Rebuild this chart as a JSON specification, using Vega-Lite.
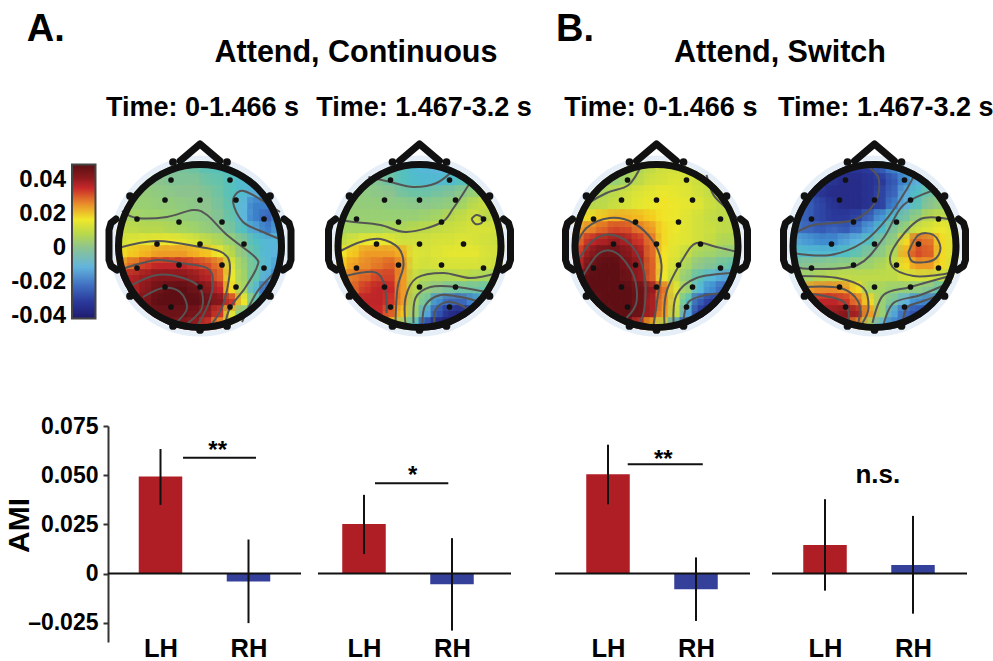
{"$schema":"https://vega.github.io/schema/vega-lite/v6.json","padding":0,"autosize":"pad","background":"white","spacing":0,
"config":{"view":{"stroke":null},"axis":{"grid":false},"font":"Liberation Sans"},
"datasets":{
"e":[{"x":-29,"y":66},{"x":30,"y":66},{"x":-35,"y":46},{"x":0,"y":46},{"x":36,"y":46},{"x":-63,"y":27},{"x":-21,"y":24},{"x":22,"y":24},{"x":64,"y":27},{"x":-43,"y":2},{"x":0,"y":2},{"x":44,"y":2},{"x":-63,"y":-22},{"x":-21,"y":-19},{"x":22,"y":-19},{"x":64,"y":-22},{"x":-35,"y":-41},{"x":0,"y":-41},{"x":36,"y":-41},{"x":-29,"y":-61},{"x":30,"y":-61}],
"k":[{"x":-27,"y":84},{"x":27,"y":84},{"x":-70,"y":50},{"x":70,"y":50},{"x":-70,"y":-50},{"x":70,"y":-50},{"x":-27,"y":-80},{"x":27,"y":-80},{"x":0,"y":-84}],
"o":[{"p":"n","x":-20,"y":85},{"p":"n","x":0,"y":102},{"p":"n","x":20,"y":85},
{"p":"l","x":-84,"y":27},{"p":"l","x":-89,"y":23},{"p":"l","x":-91,"y":16},{"p":"l","x":-91,"y":-14},{"p":"l","x":-89,"y":-20},{"p":"l","x":-83,"y":-24},
{"p":"r","x":84,"y":27},{"p":"r","x":89,"y":23},{"p":"r","x":91,"y":16},{"p":"r","x":91,"y":-14},{"p":"r","x":89,"y":-20},{"p":"r","x":83,"y":-24}],
"c1":[{"c":1,"x":-78,"y":35},{"c":1,"x":-63,"y":28},{"c":1,"x":-33,"y":29},{"c":1,"x":-7,"y":36},{"c":1,"x":7,"y":31},{"c":1,"x":27,"y":11},{"c":1,"x":55,"y":-11},{"c":1,"x":57,"y":-21},{"c":1,"x":45,"y":-42},{"c":1,"x":30,"y":-62},{"c":1,"x":25,"y":-80},
{"c":2,"x":80,"y":34},{"c":2,"x":53,"y":51},{"c":2,"x":40,"y":55},{"c":2,"x":33,"y":44},{"c":2,"x":43,"y":24},{"c":2,"x":63,"y":14},{"c":2,"x":82,"y":6},
{"c":3,"x":-82,"y":-2},{"c":3,"x":-43,"y":5},{"c":3,"x":0,"y":-1},{"c":3,"x":23,"y":-7},{"c":3,"x":30,"y":-22},{"c":3,"x":23,"y":-59},{"c":3,"x":10,"y":-80},
{"c":4,"x":-75,"y":-22},{"c":4,"x":-43,"y":-14},{"c":4,"x":-20,"y":-17},{"c":4,"x":7,"y":-22},{"c":4,"x":13,"y":-36},{"c":4,"x":8,"y":-59},{"c":4,"x":-3,"y":-80},
{"c":5,"x":-68,"y":-39},{"c":5,"x":-43,"y":-29},{"c":5,"x":-17,"y":-32},{"c":5,"x":0,"y":-42},{"c":5,"x":2,"y":-62},{"c":5,"x":-12,"y":-77},
{"c":6,"x":-57,"y":-51},{"c":6,"x":-37,"y":-42},{"c":6,"x":-20,"y":-46},{"c":6,"x":-13,"y":-62},{"c":6,"x":-23,"y":-76},
{"c":7,"x":81,"y":-9},{"c":7,"x":78,"y":-22},{"c":7,"x":57,"y":-46},{"c":7,"x":42,"y":-76}],
"c2":[{"c":1,"x":-51,"y":69},{"c":1,"x":-29,"y":64},{"c":1,"x":-6,"y":59},{"c":1,"x":17,"y":63},{"c":1,"x":34,"y":76},
{"c":2,"x":-81,"y":26},{"c":2,"x":-66,"y":24},{"c":2,"x":-39,"y":21},{"c":2,"x":-13,"y":14},{"c":2,"x":21,"y":23},{"c":2,"x":34,"y":38},{"c":2,"x":51,"y":64},
{"c":3,"x":-79,"y":-5},{"c":3,"x":-59,"y":4},{"c":3,"x":-39,"y":7},{"c":3,"x":-21,"y":-2},{"c":3,"x":-16,"y":-19},{"c":3,"x":-22,"y":-42},{"c":3,"x":-24,"y":-76},
{"c":4,"x":-74,"y":-30},{"c":4,"x":-46,"y":-26},{"c":4,"x":-36,"y":-36},{"c":4,"x":-33,"y":-56},{"c":4,"x":-33,"y":-67},
{"c":5,"x":-14,"y":-79},{"c":5,"x":-14,"y":-52},{"c":5,"x":-3,"y":-32},{"c":5,"x":24,"y":-27},{"c":5,"x":51,"y":-32},{"c":5,"x":78,"y":-27},
{"c":6,"x":-6,"y":-77},{"c":6,"x":-4,"y":-52},{"c":6,"x":11,"y":-41},{"c":6,"x":37,"y":-41},{"c":6,"x":71,"y":-47},
{"c":7,"x":3,"y":-77},{"c":7,"x":6,"y":-59},{"c":7,"x":21,"y":-49},{"c":7,"x":41,"y":-51},{"c":7,"x":61,"y":-56},
{"c":8,"x":15,"y":-79},{"c":8,"x":16,"y":-64},{"c":8,"x":27,"y":-56},{"c":8,"x":41,"y":-59},{"c":8,"x":51,"y":-66},
{"c":9,"x":52,"y":27},{"c":9,"x":57,"y":31},{"c":9,"x":63,"y":28},{"c":9,"x":62,"y":23},{"c":9,"x":56,"y":22},{"c":9,"x":52,"y":27}],
"c3":[{"c":1,"x":-15,"y":81},{"c":1,"x":-28,"y":61},{"c":1,"x":-50,"y":53},{"c":1,"x":-73,"y":39},{"c":1,"x":-80,"y":24},
{"c":2,"x":50,"y":71},{"c":2,"x":57,"y":51},{"c":2,"x":70,"y":38},{"c":2,"x":81,"y":28},
{"c":3,"x":-81,"y":-2},{"c":3,"x":-70,"y":18},{"c":3,"x":-47,"y":28},{"c":3,"x":-23,"y":23},{"c":3,"x":-3,"y":4},{"c":3,"x":5,"y":-19},{"c":3,"x":1,"y":-52},{"c":3,"x":-3,"y":-79},
{"c":4,"x":-78,"y":-14},{"c":4,"x":-63,"y":6},{"c":4,"x":-43,"y":11},{"c":4,"x":-23,"y":-2},{"c":4,"x":-12,"y":-29},{"c":4,"x":-12,"y":-62},{"c":4,"x":-18,"y":-79},
{"c":5,"x":-73,"y":-29},{"c":5,"x":-57,"y":-7},{"c":5,"x":-40,"y":-7},{"c":5,"x":-23,"y":-29},{"c":5,"x":-20,"y":-56},{"c":5,"x":-30,"y":-72},
{"c":6,"x":8,"y":-79},{"c":6,"x":10,"y":-46},{"c":6,"x":27,"y":-12},{"c":6,"x":40,"y":3},{"c":6,"x":60,"y":-1},{"c":6,"x":81,"y":-6},
{"c":7,"x":17,"y":-77},{"c":7,"x":20,"y":-49},{"c":7,"x":40,"y":-32},{"c":7,"x":78,"y":-27},
{"c":8,"x":27,"y":-76},{"c":8,"x":32,"y":-56},{"c":8,"x":50,"y":-49},{"c":8,"x":71,"y":-47}],
"c4":[{"c":1,"x":-9,"y":81},{"c":1,"x":4,"y":68},{"c":1,"x":1,"y":44},{"c":1,"x":-21,"y":26},{"c":1,"x":-61,"y":21},{"c":1,"x":-82,"y":11},
{"c":2,"x":-82,"y":-7},{"c":2,"x":-44,"y":-9},{"c":2,"x":-11,"y":4},{"c":2,"x":13,"y":28},{"c":2,"x":33,"y":58},{"c":2,"x":41,"y":74},
{"c":3,"x":-79,"y":-21},{"c":3,"x":-61,"y":-23},{"c":3,"x":-17,"y":-19},{"c":3,"x":9,"y":8},{"c":3,"x":29,"y":41},{"c":3,"x":63,"y":57},
{"c":4,"x":78,"y":26},{"c":4,"x":46,"y":27},{"c":4,"x":19,"y":-2},{"c":4,"x":18,"y":-21},{"c":4,"x":39,"y":-30},{"c":4,"x":63,"y":-29},{"c":4,"x":79,"y":-26},
{"c":5,"x":34,"y":-6},{"c":5,"x":44,"y":11},{"c":5,"x":59,"y":11},{"c":5,"x":66,"y":-2},{"c":5,"x":59,"y":-14},{"c":5,"x":39,"y":-16},{"c":5,"x":34,"y":-6},
{"c":6,"x":-77,"y":-30},{"c":6,"x":-37,"y":-32},{"c":6,"x":-11,"y":-42},{"c":6,"x":-6,"y":-62},{"c":6,"x":-12,"y":-77},
{"c":7,"x":-72,"y":-41},{"c":7,"x":-34,"y":-42},{"c":7,"x":-16,"y":-56},{"c":7,"x":-16,"y":-76},
{"c":8,"x":-69,"y":-47},{"c":8,"x":-34,"y":-54},{"c":8,"x":-26,"y":-66},{"c":8,"x":-27,"y":-76},
{"c":9,"x":-2,"y":-77},{"c":9,"x":9,"y":-49},{"c":9,"x":36,"y":-41},{"c":9,"x":79,"y":-29},
{"c":10,"x":9,"y":-79},{"c":10,"x":19,"y":-57},{"c":10,"x":46,"y":-49},{"c":10,"x":77,"y":-36},
{"c":11,"x":28,"y":-76},{"c":11,"x":33,"y":-61},{"c":11,"x":46,"y":-56},{"c":11,"x":71,"y":-47}],
"h1":[{"x":-30,"y":78,"v":-2},{"x":-18,"y":78,"v":-2},{"x":-6,"y":78,"v":-3},{"x":6,"y":78,"v":-5},{"x":18,"y":78,"v":-6},{"x":30,"y":78,"v":-8},
{"x":-54,"y":66,"v":1},{"x":-42,"y":66,"v":0},{"x":-30,"y":66,"v":-1},{"x":-18,"y":66,"v":-1},{"x":-6,"y":66,"v":-1},{"x":6,"y":66,"v":-3},{"x":18,"y":66,"v":-4},{"x":30,"y":66,"v":-6},{"x":42,"y":66,"v":-9},{"x":54,"y":66,"v":-11},
{"x":-66,"y":54,"v":3},{"x":-54,"y":54,"v":3},{"x":-42,"y":54,"v":2},{"x":-30,"y":54,"v":1},{"x":-18,"y":54,"v":0},{"x":-6,"y":54,"v":0},{"x":6,"y":54,"v":-1},{"x":18,"y":54,"v":-3},{"x":30,"y":54,"v":-6},{"x":42,"y":54,"v":-9},{"x":54,"y":54,"v":-13},{"x":66,"y":54,"v":-16},
{"x":-66,"y":42,"v":4},{"x":-54,"y":42,"v":4},{"x":-42,"y":42,"v":3},{"x":-30,"y":42,"v":3},{"x":-18,"y":42,"v":2},{"x":-6,"y":42,"v":1},{"x":6,"y":42,"v":0},{"x":18,"y":42,"v":-2},{"x":30,"y":42,"v":-5},{"x":42,"y":42,"v":-11},{"x":54,"y":42,"v":-20},{"x":66,"y":42,"v":-20},
{"x":-78,"y":30,"v":6},{"x":-66,"y":30,"v":6},{"x":-54,"y":30,"v":5},{"x":-42,"y":30,"v":5},{"x":-30,"y":30,"v":4},{"x":-18,"y":30,"v":3},{"x":-6,"y":30,"v":2},{"x":6,"y":30,"v":1},{"x":18,"y":30,"v":-1},{"x":30,"y":30,"v":-4},{"x":42,"y":30,"v":-11},{"x":54,"y":30,"v":-20},{"x":66,"y":30,"v":-24},{"x":78,"y":30,"v":-18},
{"x":-78,"y":18,"v":10},{"x":-66,"y":18,"v":9},{"x":-54,"y":18,"v":8},{"x":-42,"y":18,"v":8},{"x":-30,"y":18,"v":7},{"x":-18,"y":18,"v":6},{"x":-6,"y":18,"v":5},{"x":6,"y":18,"v":3},{"x":18,"y":18,"v":1},{"x":30,"y":18,"v":-2},{"x":42,"y":18,"v":-7},{"x":54,"y":18,"v":-14},{"x":66,"y":18,"v":-20},{"x":78,"y":18,"v":-15},
{"x":-78,"y":6,"v":13},{"x":-66,"y":6,"v":14},{"x":-54,"y":6,"v":15},{"x":-42,"y":6,"v":16},{"x":-30,"y":6,"v":16},{"x":-18,"y":6,"v":15},{"x":-6,"y":6,"v":13},{"x":6,"y":6,"v":10},{"x":18,"y":6,"v":7},{"x":30,"y":6,"v":4},{"x":42,"y":6,"v":-1},{"x":54,"y":6,"v":-7},{"x":66,"y":6,"v":-10},{"x":78,"y":6,"v":-10},
{"x":-78,"y":-6,"v":18},{"x":-66,"y":-6,"v":20},{"x":-54,"y":-6,"v":22},{"x":-42,"y":-6,"v":24},{"x":-30,"y":-6,"v":24},{"x":-18,"y":-6,"v":24},{"x":-6,"y":-6,"v":22},{"x":6,"y":-6,"v":20},{"x":18,"y":-6,"v":16},{"x":30,"y":-6,"v":8},{"x":42,"y":-6,"v":1},{"x":54,"y":-6,"v":-5},{"x":66,"y":-6,"v":-10},{"x":78,"y":-6,"v":-12},
{"x":-78,"y":-18,"v":26},{"x":-66,"y":-18,"v":30},{"x":-54,"y":-18,"v":34},{"x":-42,"y":-18,"v":36},{"x":-30,"y":-18,"v":36},{"x":-18,"y":-18,"v":36},{"x":-6,"y":-18,"v":34},{"x":6,"y":-18,"v":32},{"x":18,"y":-18,"v":28},{"x":30,"y":-18,"v":14},{"x":42,"y":-18,"v":4},{"x":54,"y":-18,"v":-3},{"x":66,"y":-18,"v":-10},{"x":78,"y":-18,"v":-15},
{"x":-78,"y":-30,"v":35},{"x":-66,"y":-30,"v":38},{"x":-54,"y":-30,"v":40},{"x":-42,"y":-30,"v":42},{"x":-30,"y":-30,"v":42},{"x":-18,"y":-30,"v":42},{"x":-6,"y":-30,"v":40},{"x":6,"y":-30,"v":37},{"x":18,"y":-30,"v":30},{"x":30,"y":-30,"v":16},{"x":42,"y":-30,"v":5},{"x":54,"y":-30,"v":-4},{"x":66,"y":-30,"v":-13},{"x":78,"y":-30,"v":-20},
{"x":-66,"y":-42,"v":38},{"x":-54,"y":-42,"v":42},{"x":-42,"y":-42,"v":46},{"x":-30,"y":-42,"v":48},{"x":-18,"y":-42,"v":48},{"x":-6,"y":-42,"v":46},{"x":6,"y":-42,"v":42},{"x":18,"y":-42,"v":36},{"x":30,"y":-42,"v":18},{"x":42,"y":-42,"v":6},{"x":54,"y":-42,"v":-10},{"x":66,"y":-42,"v":-24},
{"x":-66,"y":-54,"v":40},{"x":-54,"y":-54,"v":44},{"x":-42,"y":-54,"v":48},{"x":-30,"y":-54,"v":48},{"x":-18,"y":-54,"v":48},{"x":-6,"y":-54,"v":48},{"x":6,"y":-54,"v":46},{"x":18,"y":-54,"v":42},{"x":30,"y":-54,"v":34},{"x":42,"y":-54,"v":16},{"x":54,"y":-54,"v":-4},{"x":66,"y":-54,"v":-20},
{"x":-54,"y":-66,"v":44},{"x":-42,"y":-66,"v":46},{"x":-30,"y":-66,"v":46},{"x":-18,"y":-66,"v":46},{"x":-6,"y":-66,"v":44},{"x":6,"y":-66,"v":40},{"x":18,"y":-66,"v":34},{"x":30,"y":-66,"v":14},{"x":42,"y":-66,"v":-2},{"x":54,"y":-66,"v":-14},
{"x":-30,"y":-78,"v":44},{"x":-18,"y":-78,"v":42},{"x":-6,"y":-78,"v":40},{"x":6,"y":-78,"v":34},{"x":18,"y":-78,"v":24},{"x":30,"y":-78,"v":10}],
"h2":[{"x":-30,"y":78,"v":-3},{"x":-18,"y":78,"v":-6},{"x":-6,"y":78,"v":-9},{"x":6,"y":78,"v":-10},{"x":18,"y":78,"v":-11},{"x":30,"y":78,"v":-10},
{"x":-54,"y":66,"v":0},{"x":-42,"y":66,"v":-1},{"x":-30,"y":66,"v":-3},{"x":-18,"y":66,"v":-6},{"x":-6,"y":66,"v":-8},{"x":6,"y":66,"v":-9},{"x":18,"y":66,"v":-9},{"x":30,"y":66,"v":-8},{"x":42,"y":66,"v":-6},{"x":54,"y":66,"v":-3},
{"x":-66,"y":54,"v":3},{"x":-54,"y":54,"v":2},{"x":-42,"y":54,"v":1},{"x":-30,"y":54,"v":0},{"x":-18,"y":54,"v":-2},{"x":-6,"y":54,"v":-3},{"x":6,"y":54,"v":-3},{"x":18,"y":54,"v":-2},{"x":30,"y":54,"v":-1},{"x":42,"y":54,"v":1},{"x":54,"y":54,"v":4},{"x":66,"y":54,"v":8},
{"x":-66,"y":42,"v":3},{"x":-54,"y":42,"v":3},{"x":-42,"y":42,"v":3},{"x":-30,"y":42,"v":2},{"x":-18,"y":42,"v":2},{"x":-6,"y":42,"v":1},{"x":6,"y":42,"v":1},{"x":18,"y":42,"v":2},{"x":30,"y":42,"v":3},{"x":42,"y":42,"v":6},{"x":54,"y":42,"v":9},{"x":66,"y":42,"v":11},
{"x":-78,"y":30,"v":4},{"x":-66,"y":30,"v":4},{"x":-54,"y":30,"v":4},{"x":-42,"y":30,"v":4},{"x":-30,"y":30,"v":4},{"x":-18,"y":30,"v":4},{"x":-6,"y":30,"v":4},{"x":6,"y":30,"v":5},{"x":18,"y":30,"v":6},{"x":30,"y":30,"v":8},{"x":42,"y":30,"v":10},{"x":54,"y":30,"v":12},{"x":66,"y":30,"v":8},{"x":78,"y":30,"v":12},
{"x":-78,"y":18,"v":6},{"x":-66,"y":18,"v":6},{"x":-54,"y":18,"v":6},{"x":-42,"y":18,"v":6},{"x":-30,"y":18,"v":7},{"x":-18,"y":18,"v":7},{"x":-6,"y":18,"v":8},{"x":6,"y":18,"v":9},{"x":18,"y":18,"v":10},{"x":30,"y":18,"v":11},{"x":42,"y":18,"v":12},{"x":54,"y":18,"v":13},{"x":66,"y":18,"v":13},{"x":78,"y":18,"v":12},
{"x":-78,"y":6,"v":10},{"x":-66,"y":6,"v":13},{"x":-54,"y":6,"v":16},{"x":-42,"y":6,"v":16},{"x":-30,"y":6,"v":15},{"x":-18,"y":6,"v":12},{"x":-6,"y":6,"v":12},{"x":6,"y":6,"v":12},{"x":18,"y":6,"v":13},{"x":30,"y":6,"v":13},{"x":42,"y":6,"v":14},{"x":54,"y":6,"v":13},{"x":66,"y":6,"v":12},{"x":78,"y":6,"v":11},
{"x":-78,"y":-6,"v":17},{"x":-66,"y":-6,"v":20},{"x":-54,"y":-6,"v":24},{"x":-42,"y":-6,"v":24},{"x":-30,"y":-6,"v":24},{"x":-18,"y":-6,"v":22},{"x":-6,"y":-6,"v":14},{"x":6,"y":-6,"v":13},{"x":18,"y":-6,"v":14},{"x":30,"y":-6,"v":15},{"x":42,"y":-6,"v":15},{"x":54,"y":-6,"v":15},{"x":66,"y":-6,"v":13},{"x":78,"y":-6,"v":12},
{"x":-78,"y":-18,"v":20},{"x":-66,"y":-18,"v":24},{"x":-54,"y":-18,"v":26},{"x":-42,"y":-18,"v":28},{"x":-30,"y":-18,"v":30},{"x":-18,"y":-18,"v":25},{"x":-6,"y":-18,"v":13},{"x":6,"y":-18,"v":12},{"x":18,"y":-18,"v":13},{"x":30,"y":-18,"v":13},{"x":42,"y":-18,"v":13},{"x":54,"y":-18,"v":13},{"x":66,"y":-18,"v":12},{"x":78,"y":-18,"v":11},
{"x":-78,"y":-30,"v":24},{"x":-66,"y":-30,"v":28},{"x":-54,"y":-30,"v":30},{"x":-42,"y":-30,"v":33},{"x":-30,"y":-30,"v":33},{"x":-18,"y":-30,"v":24},{"x":-6,"y":-30,"v":10},{"x":6,"y":-30,"v":7},{"x":18,"y":-30,"v":7},{"x":30,"y":-30,"v":7},{"x":42,"y":-30,"v":8},{"x":54,"y":-30,"v":7},{"x":66,"y":-30,"v":6},{"x":78,"y":-30,"v":5},
{"x":-66,"y":-42,"v":30},{"x":-54,"y":-42,"v":34},{"x":-42,"y":-42,"v":36},{"x":-30,"y":-42,"v":35},{"x":-18,"y":-42,"v":24},{"x":-6,"y":-42,"v":8},{"x":6,"y":-42,"v":3},{"x":18,"y":-42,"v":0},{"x":30,"y":-42,"v":-2},{"x":42,"y":-42,"v":-3},{"x":54,"y":-42,"v":-3},{"x":66,"y":-42,"v":-4},
{"x":-66,"y":-54,"v":36},{"x":-54,"y":-54,"v":36},{"x":-42,"y":-54,"v":36},{"x":-30,"y":-54,"v":34},{"x":-18,"y":-54,"v":24},{"x":-6,"y":-54,"v":6},{"x":6,"y":-54,"v":-3},{"x":18,"y":-54,"v":-18},{"x":30,"y":-54,"v":-24},{"x":42,"y":-54,"v":-24},{"x":54,"y":-54,"v":-18},{"x":66,"y":-54,"v":-8},
{"x":-54,"y":-66,"v":36},{"x":-42,"y":-66,"v":35},{"x":-30,"y":-66,"v":30},{"x":-18,"y":-66,"v":20},{"x":-6,"y":-66,"v":4},{"x":6,"y":-66,"v":-14},{"x":18,"y":-66,"v":-28},{"x":30,"y":-66,"v":-36},{"x":42,"y":-66,"v":-38},{"x":54,"y":-66,"v":-30},
{"x":-30,"y":-78,"v":18},{"x":-18,"y":-78,"v":4},{"x":-6,"y":-78,"v":-8},{"x":6,"y":-78,"v":-32},{"x":18,"y":-78,"v":-40},{"x":30,"y":-78,"v":-40}],
"h3":[{"x":-30,"y":78,"v":6},{"x":-18,"y":78,"v":7},{"x":-6,"y":78,"v":10},{"x":6,"y":78,"v":12},{"x":18,"y":78,"v":12},{"x":30,"y":78,"v":12},
{"x":-54,"y":66,"v":3},{"x":-42,"y":66,"v":4},{"x":-30,"y":66,"v":6},{"x":-18,"y":66,"v":9},{"x":-6,"y":66,"v":12},{"x":6,"y":66,"v":13},{"x":18,"y":66,"v":14},{"x":30,"y":66,"v":13},{"x":42,"y":66,"v":11},{"x":54,"y":66,"v":8},
{"x":-66,"y":54,"v":5},{"x":-54,"y":54,"v":7},{"x":-42,"y":54,"v":9},{"x":-30,"y":54,"v":12},{"x":-18,"y":54,"v":14},{"x":-6,"y":54,"v":15},{"x":6,"y":54,"v":16},{"x":18,"y":54,"v":15},{"x":30,"y":54,"v":14},{"x":42,"y":54,"v":12},{"x":54,"y":54,"v":10},{"x":66,"y":54,"v":7},
{"x":-66,"y":42,"v":8},{"x":-54,"y":42,"v":9},{"x":-42,"y":42,"v":11},{"x":-30,"y":42,"v":13},{"x":-18,"y":42,"v":15},{"x":-6,"y":42,"v":16},{"x":6,"y":42,"v":17},{"x":18,"y":42,"v":16},{"x":30,"y":42,"v":15},{"x":42,"y":42,"v":14},{"x":54,"y":42,"v":11},{"x":66,"y":42,"v":9},
{"x":-78,"y":30,"v":14},{"x":-66,"y":30,"v":18},{"x":-54,"y":30,"v":20},{"x":-42,"y":30,"v":22},{"x":-30,"y":30,"v":22},{"x":-18,"y":30,"v":21},{"x":-6,"y":30,"v":19},{"x":6,"y":30,"v":17},{"x":18,"y":30,"v":16},{"x":30,"y":30,"v":14},{"x":42,"y":30,"v":12},{"x":54,"y":30,"v":10},{"x":66,"y":30,"v":9},{"x":78,"y":30,"v":9},
{"x":-78,"y":18,"v":24},{"x":-66,"y":18,"v":27},{"x":-54,"y":18,"v":30},{"x":-42,"y":18,"v":33},{"x":-30,"y":18,"v":32},{"x":-18,"y":18,"v":28},{"x":-6,"y":18,"v":24},{"x":6,"y":18,"v":18},{"x":18,"y":18,"v":16},{"x":30,"y":18,"v":14},{"x":42,"y":18,"v":12},{"x":54,"y":18,"v":11},{"x":66,"y":18,"v":9},{"x":78,"y":18,"v":9},
{"x":-78,"y":6,"v":30},{"x":-66,"y":6,"v":36},{"x":-54,"y":6,"v":38},{"x":-42,"y":6,"v":40},{"x":-30,"y":6,"v":38},{"x":-18,"y":6,"v":34},{"x":-6,"y":6,"v":28},{"x":6,"y":6,"v":18},{"x":18,"y":6,"v":15},{"x":30,"y":6,"v":14},{"x":42,"y":6,"v":12},{"x":54,"y":6,"v":10},{"x":66,"y":6,"v":7},{"x":78,"y":6,"v":7},
{"x":-78,"y":-6,"v":34},{"x":-66,"y":-6,"v":42},{"x":-54,"y":-6,"v":46},{"x":-42,"y":-6,"v":46},{"x":-30,"y":-6,"v":42},{"x":-18,"y":-6,"v":38},{"x":-6,"y":-6,"v":29},{"x":6,"y":-6,"v":17},{"x":18,"y":-6,"v":14},{"x":30,"y":-6,"v":10},{"x":42,"y":-6,"v":6},{"x":54,"y":-6,"v":5},{"x":66,"y":-6,"v":3},{"x":78,"y":-6,"v":3},
{"x":-78,"y":-18,"v":38},{"x":-66,"y":-18,"v":46},{"x":-54,"y":-18,"v":48},{"x":-42,"y":-18,"v":48},{"x":-30,"y":-18,"v":44},{"x":-18,"y":-18,"v":40},{"x":-6,"y":-18,"v":30},{"x":6,"y":-18,"v":17},{"x":18,"y":-18,"v":12},{"x":30,"y":-18,"v":6},{"x":42,"y":-18,"v":1},{"x":54,"y":-18,"v":-1},{"x":66,"y":-18,"v":-3},{"x":78,"y":-18,"v":-5},
{"x":-78,"y":-30,"v":44},{"x":-66,"y":-30,"v":48},{"x":-54,"y":-30,"v":48},{"x":-42,"y":-30,"v":48},{"x":-30,"y":-30,"v":46},{"x":-18,"y":-30,"v":40},{"x":-6,"y":-30,"v":30},{"x":6,"y":-30,"v":16},{"x":18,"y":-30,"v":9},{"x":30,"y":-30,"v":2},{"x":42,"y":-30,"v":-5},{"x":54,"y":-30,"v":-10},{"x":66,"y":-30,"v":-14},{"x":78,"y":-30,"v":-13},
{"x":-66,"y":-42,"v":48},{"x":-54,"y":-42,"v":48},{"x":-42,"y":-42,"v":48},{"x":-30,"y":-42,"v":48},{"x":-18,"y":-42,"v":46},{"x":-6,"y":-42,"v":40},{"x":6,"y":-42,"v":28},{"x":18,"y":-42,"v":14},{"x":30,"y":-42,"v":4},{"x":42,"y":-42,"v":-10},{"x":54,"y":-42,"v":-18},{"x":66,"y":-42,"v":-24},
{"x":-66,"y":-54,"v":46},{"x":-54,"y":-54,"v":48},{"x":-42,"y":-54,"v":48},{"x":-30,"y":-54,"v":48},{"x":-18,"y":-54,"v":46},{"x":-6,"y":-54,"v":38},{"x":6,"y":-54,"v":26},{"x":18,"y":-54,"v":12},{"x":30,"y":-54,"v":-6},{"x":42,"y":-54,"v":-26},{"x":54,"y":-54,"v":-32},{"x":66,"y":-54,"v":-32},
{"x":-54,"y":-66,"v":46},{"x":-42,"y":-66,"v":48},{"x":-30,"y":-66,"v":48},{"x":-18,"y":-66,"v":46},{"x":-6,"y":-66,"v":38},{"x":6,"y":-66,"v":24},{"x":18,"y":-66,"v":10},{"x":30,"y":-66,"v":-14},{"x":42,"y":-66,"v":-32},{"x":54,"y":-66,"v":-36},
{"x":-30,"y":-78,"v":44},{"x":-18,"y":-78,"v":34},{"x":-6,"y":-78,"v":20},{"x":6,"y":-78,"v":8},{"x":18,"y":-78,"v":-16},{"x":30,"y":-78,"v":-32}],
"h4":[{"x":-30,"y":78,"v":-34},{"x":-18,"y":78,"v":-34},{"x":-6,"y":78,"v":-32},{"x":6,"y":78,"v":-26},{"x":18,"y":78,"v":-20},{"x":30,"y":78,"v":-13},
{"x":-54,"y":66,"v":-30},{"x":-42,"y":66,"v":-34},{"x":-30,"y":66,"v":-36},{"x":-18,"y":66,"v":-36},{"x":-6,"y":66,"v":-34},{"x":6,"y":66,"v":-32},{"x":18,"y":66,"v":-26},{"x":30,"y":66,"v":-18},{"x":42,"y":66,"v":-12},{"x":54,"y":66,"v":-7},
{"x":-66,"y":54,"v":-28},{"x":-54,"y":54,"v":-34},{"x":-42,"y":54,"v":-36},{"x":-30,"y":54,"v":-36},{"x":-18,"y":54,"v":-36},{"x":-6,"y":54,"v":-34},{"x":6,"y":54,"v":-30},{"x":18,"y":54,"v":-24},{"x":30,"y":54,"v":-13},{"x":42,"y":54,"v":-7},{"x":54,"y":54,"v":-3},{"x":66,"y":54,"v":0},
{"x":-66,"y":42,"v":-26},{"x":-54,"y":42,"v":-30},{"x":-42,"y":42,"v":-34},{"x":-30,"y":42,"v":-36},{"x":-18,"y":42,"v":-36},{"x":-6,"y":42,"v":-34},{"x":6,"y":42,"v":-30},{"x":18,"y":42,"v":-20},{"x":30,"y":42,"v":-12},{"x":42,"y":42,"v":-5},{"x":54,"y":42,"v":0},{"x":66,"y":42,"v":3},
{"x":-78,"y":30,"v":-22},{"x":-66,"y":30,"v":-26},{"x":-54,"y":30,"v":-30},{"x":-42,"y":30,"v":-32},{"x":-30,"y":30,"v":-32},{"x":-18,"y":30,"v":-30},{"x":-6,"y":30,"v":-24},{"x":6,"y":30,"v":-16},{"x":18,"y":30,"v":-8},{"x":30,"y":30,"v":-2},{"x":42,"y":30,"v":3},{"x":54,"y":30,"v":8},{"x":66,"y":30,"v":10},{"x":78,"y":30,"v":12},
{"x":-78,"y":18,"v":-22},{"x":-66,"y":18,"v":-24},{"x":-54,"y":18,"v":-26},{"x":-42,"y":18,"v":-24},{"x":-30,"y":18,"v":-26},{"x":-18,"y":18,"v":-22},{"x":-6,"y":18,"v":-15},{"x":6,"y":18,"v":-8},{"x":18,"y":18,"v":-1},{"x":30,"y":18,"v":4},{"x":42,"y":18,"v":12},{"x":54,"y":18,"v":14},{"x":66,"y":18,"v":16},{"x":78,"y":18,"v":14},
{"x":-78,"y":6,"v":-14},{"x":-66,"y":6,"v":-16},{"x":-54,"y":6,"v":-18},{"x":-42,"y":6,"v":-18},{"x":-30,"y":6,"v":-14},{"x":-18,"y":6,"v":-11},{"x":-6,"y":6,"v":-6},{"x":6,"y":6,"v":-1},{"x":18,"y":6,"v":3},{"x":30,"y":6,"v":18},{"x":42,"y":6,"v":30},{"x":54,"y":6,"v":28},{"x":66,"y":6,"v":18},{"x":78,"y":6,"v":14},
{"x":-78,"y":-6,"v":-8},{"x":-66,"y":-6,"v":-9},{"x":-54,"y":-6,"v":-9},{"x":-42,"y":-6,"v":-9},{"x":-30,"y":-6,"v":-7},{"x":-18,"y":-6,"v":-4},{"x":-6,"y":-6,"v":-1},{"x":6,"y":-6,"v":2},{"x":18,"y":-6,"v":7},{"x":30,"y":-6,"v":22},{"x":42,"y":-6,"v":32},{"x":54,"y":-6,"v":30},{"x":66,"y":-6,"v":18},{"x":78,"y":-6,"v":14},
{"x":-78,"y":-18,"v":-1},{"x":-66,"y":-18,"v":0},{"x":-54,"y":-18,"v":1},{"x":-42,"y":-18,"v":2},{"x":-30,"y":-18,"v":3},{"x":-18,"y":-18,"v":4},{"x":-6,"y":-18,"v":5},{"x":6,"y":-18,"v":7},{"x":18,"y":-18,"v":10},{"x":30,"y":-18,"v":18},{"x":42,"y":-18,"v":24},{"x":54,"y":-18,"v":24},{"x":66,"y":-18,"v":18},{"x":78,"y":-18,"v":13},
{"x":-78,"y":-30,"v":5},{"x":-66,"y":-30,"v":6},{"x":-54,"y":-30,"v":8},{"x":-42,"y":-30,"v":9},{"x":-30,"y":-30,"v":10},{"x":-18,"y":-30,"v":9},{"x":-6,"y":-30,"v":9},{"x":6,"y":-30,"v":9},{"x":18,"y":-30,"v":9},{"x":30,"y":-30,"v":12},{"x":42,"y":-30,"v":13},{"x":54,"y":-30,"v":12},{"x":66,"y":-30,"v":10},{"x":78,"y":-30,"v":8},
{"x":-66,"y":-42,"v":24},{"x":-54,"y":-42,"v":26},{"x":-42,"y":-42,"v":26},{"x":-30,"y":-42,"v":24},{"x":-18,"y":-42,"v":18},{"x":-6,"y":-42,"v":6},{"x":6,"y":-42,"v":6},{"x":18,"y":-42,"v":4},{"x":30,"y":-42,"v":3},{"x":42,"y":-42,"v":2},{"x":54,"y":-42,"v":-1},{"x":66,"y":-42,"v":-5},
{"x":-66,"y":-54,"v":34},{"x":-54,"y":-54,"v":36},{"x":-42,"y":-54,"v":36},{"x":-30,"y":-54,"v":34},{"x":-18,"y":-54,"v":28},{"x":-6,"y":-54,"v":18},{"x":6,"y":-54,"v":4},{"x":18,"y":-54,"v":-2},{"x":30,"y":-54,"v":-12},{"x":42,"y":-54,"v":-18},{"x":54,"y":-54,"v":-20},{"x":66,"y":-54,"v":-20},
{"x":-54,"y":-66,"v":38},{"x":-42,"y":-66,"v":40},{"x":-30,"y":-66,"v":42},{"x":-18,"y":-66,"v":38},{"x":-6,"y":-66,"v":24},{"x":6,"y":-66,"v":4},{"x":18,"y":-66,"v":-14},{"x":30,"y":-66,"v":-24},{"x":42,"y":-66,"v":-28},{"x":54,"y":-66,"v":-26},
{"x":-30,"y":-78,"v":40},{"x":-18,"y":-78,"v":24},{"x":-6,"y":-78,"v":6},{"x":6,"y":-78,"v":-12},{"x":18,"y":-78,"v":-20},{"x":30,"y":-78,"v":-22}]
},
"vconcat":[
{"width":993,"height":117,
"encoding":{"x":{"field":"px","type":"quantitative","scale":{"domain":[0,100]},"axis":null},"y":{"field":"py","type":"quantitative","scale":{"domain":[90,0]},"axis":null},"text":{"field":"t"}},
"layer":[
{"data":{"values":[{"t":"A.","px":2.7,"py":23},{"t":"B.","px":56,"py":23}]},"mark":{"type":"text","align":"left","fontWeight":"bold","fontSize":38,"font":"Liberation Sans","color":"#000"}},
{"data":{"values":[{"t":"Attend, Continuous","px":35.85,"py":41},{"t":"Attend, Switch","px":78.55,"py":41}]},"mark":{"type":"text","fontWeight":"bold","fontSize":30.5,"font":"Liberation Sans","color":"#000"}},
{"data":{"values":[{"t":"Time: 0-1.466 s","px":20.4,"py":83},{"t":"Time: 1.467-3.2 s","px":42.7,"py":83},{"t":"Time: 0-1.466 s","px":66.55,"py":83},{"t":"Time: 1.467-3.2 s","px":89.2,"py":83}]},"mark":{"type":"text","fontWeight":"bold","fontSize":27,"font":"Liberation Sans","color":"#000"}}
]},
{"bounds":"flush","spacing":0,"hconcat":[
{"width":95,"height":281,
"layer":[
{"data":{"values":[{"low":-41.8,"high":48.8}]},"mark":{"type":"rect","stroke":"#444","strokeWidth":2,"fill":{"gradient":"linear","x1":0,"y1":1,"x2":0,"y2":0,"stops":[{"offset":0,"color":"#1f1a6e"},{"offset":0.1126,"color":"#2b3a9c"},{"offset":0.2119,"color":"#3e6cc0"},{"offset":0.3344,"color":"#62b4dd"},{"offset":0.4614,"color":"#8dc48f"},{"offset":0.5497,"color":"#b8d84c"},{"offset":0.6435,"color":"#f0e82a"},{"offset":0.7483,"color":"#e8892b"},{"offset":0.8477,"color":"#c8282a"},{"offset":0.9139,"color":"#8c1a1e"},{"offset":1,"color":"#5a0f14"}]}},
"encoding":{"x":{"datum":72,"type":"quantitative","scale":{"domain":[0,95]},"axis":null},"x2":{"datum":95.5},"y":{"field":"low","type":"quantitative","scale":{"domain":[-98.5,66.8]},"axis":null},"y2":{"field":"high"}}},
{"data":{"values":[{"v":40,"t":"0.04"},{"v":20,"t":"0.02"},{"v":0,"t":"0"},{"v":-20,"t":"-0.02"},{"v":-40,"t":"-0.04"}]},"mark":{"type":"text","align":"right","fontWeight":"bold","fontSize":24,"font":"Liberation Sans","color":"#000"},
"encoding":{"x":{"datum":66,"type":"quantitative","scale":{"domain":[0,95]},"axis":null},"y":{"field":"v","type":"quantitative","scale":{"domain":[-98.5,66.8]},"axis":null},"text":{"field":"t"}}}
]},
{"width":215,"height":281,"encoding":{"x":{"field":"x","type":"quantitative","scale":{"domain":[-105,110]},"axis":null},"y":{"field":"y","type":"quantitative","scale":{"domain":[-169,112]},"axis":null}},
"layer":[
{"data":{"name":"h1"},"mark":{"type":"rect","width":12.6,"height":12.6},"encoding":{"color":{"field":"v","type":"quantitative","legend":null,"scale":{"domain":[-41.8,-32,-23,-11.5,0,8,16.5,26,35,41,48.8],"range":["#1f1a6e","#2b3a9c","#3e6cc0","#62b4dd","#8dc48f","#b8d84c","#f0e82a","#e8892b","#c8282a","#8c1a1e","#5a0f14"]}}}},
{"data":{"name":"h1"},"mark":{"type":"rect","width":18,"height":18,"opacity":0.45,"xOffset":2,"yOffset":2},"encoding":{"color":{"field":"v","type":"quantitative","legend":null}}},
{"data":{"values":[{"x":0,"y":0}]},"mark":{"type":"point","shape":"circle","size":34596,"stroke":"white","strokeWidth":16,"opacity":1,"fill":null}},
{"data":{"values":[{"x":0,"y":0}]},"mark":{"type":"point","shape":"circle","size":30976,"stroke":"#e6eef7","strokeWidth":5,"opacity":1,"fill":null}},
{"data":{"name":"c1"},"mark":{"type":"line","interpolate":"cardinal","stroke":"#555","strokeWidth":2},"encoding":{"detail":{"field":"c"},"order":{"value":null}}},
{"data":{"values":[{"x":0,"y":0}]},"mark":{"type":"point","shape":"circle","size":26569,"stroke":"#111","strokeWidth":7,"opacity":1,"fill":null}},
{"data":{"name":"o"},"mark":{"type":"line","stroke":"#111","strokeWidth":7,"strokeCap":"round","strokeJoin":"round"},"encoding":{"detail":{"field":"p"},"order":{"value":null}}},
{"data":{"name":"k"},"mark":{"type":"point","shape":"circle","filled":true,"size":60,"color":"#111","opacity":1}},
{"data":{"name":"e"},"mark":{"type":"point","shape":"circle","filled":true,"size":32,"color":"#111","opacity":1}}
]},
{"width":228,"height":281,"encoding":{"x":{"field":"x","type":"quantitative","scale":{"domain":[-109.5,118.5]},"axis":null},"y":{"field":"y","type":"quantitative","scale":{"domain":[-169,112]},"axis":null}},
"layer":[
{"data":{"name":"h2"},"mark":{"type":"rect","width":12.6,"height":12.6},"encoding":{"color":{"field":"v","type":"quantitative","legend":null,"scale":{"domain":[-41.8,-32,-23,-11.5,0,8,16.5,26,35,41,48.8],"range":["#1f1a6e","#2b3a9c","#3e6cc0","#62b4dd","#8dc48f","#b8d84c","#f0e82a","#e8892b","#c8282a","#8c1a1e","#5a0f14"]}}}},
{"data":{"name":"h2"},"mark":{"type":"rect","width":18,"height":18,"opacity":0.45,"xOffset":2,"yOffset":2},"encoding":{"color":{"field":"v","type":"quantitative","legend":null}}},
{"data":{"values":[{"x":0,"y":0}]},"mark":{"type":"point","shape":"circle","size":34596,"stroke":"white","strokeWidth":16,"opacity":1,"fill":null}},
{"data":{"values":[{"x":0,"y":0}]},"mark":{"type":"point","shape":"circle","size":30976,"stroke":"#e6eef7","strokeWidth":5,"opacity":1,"fill":null}},
{"data":{"name":"c2"},"mark":{"type":"line","interpolate":"cardinal","stroke":"#555","strokeWidth":2},"encoding":{"detail":{"field":"c"},"order":{"value":null}}},
{"data":{"values":[{"x":0,"y":0}]},"mark":{"type":"point","shape":"circle","size":26569,"stroke":"#111","strokeWidth":7,"opacity":1,"fill":null}},
{"data":{"name":"o"},"mark":{"type":"line","stroke":"#111","strokeWidth":7,"strokeCap":"round","strokeJoin":"round"},"encoding":{"detail":{"field":"p"},"order":{"value":null}}},
{"data":{"name":"k"},"mark":{"type":"point","shape":"circle","filled":true,"size":60,"color":"#111","opacity":1}},
{"data":{"name":"e"},"mark":{"type":"point","shape":"circle","filled":true,"size":32,"color":"#111","opacity":1}}
]},
{"width":227,"height":281,"encoding":{"x":{"field":"x","type":"quantitative","scale":{"domain":[-118.5,108.5]},"axis":null},"y":{"field":"y","type":"quantitative","scale":{"domain":[-169,112]},"axis":null}},
"layer":[
{"data":{"name":"h3"},"mark":{"type":"rect","width":12.6,"height":12.6},"encoding":{"color":{"field":"v","type":"quantitative","legend":null,"scale":{"domain":[-41.8,-32,-23,-11.5,0,8,16.5,26,35,41,48.8],"range":["#1f1a6e","#2b3a9c","#3e6cc0","#62b4dd","#8dc48f","#b8d84c","#f0e82a","#e8892b","#c8282a","#8c1a1e","#5a0f14"]}}}},
{"data":{"name":"h3"},"mark":{"type":"rect","width":18,"height":18,"opacity":0.45,"xOffset":2,"yOffset":2},"encoding":{"color":{"field":"v","type":"quantitative","legend":null}}},
{"data":{"values":[{"x":0,"y":0}]},"mark":{"type":"point","shape":"circle","size":34596,"stroke":"white","strokeWidth":16,"opacity":1,"fill":null}},
{"data":{"values":[{"x":0,"y":0}]},"mark":{"type":"point","shape":"circle","size":30976,"stroke":"#e6eef7","strokeWidth":5,"opacity":1,"fill":null}},
{"data":{"name":"c3"},"mark":{"type":"line","interpolate":"cardinal","stroke":"#555","strokeWidth":2},"encoding":{"detail":{"field":"c"},"order":{"value":null}}},
{"data":{"values":[{"x":0,"y":0}]},"mark":{"type":"point","shape":"circle","size":26569,"stroke":"#111","strokeWidth":7,"opacity":1,"fill":null}},
{"data":{"name":"o"},"mark":{"type":"line","stroke":"#111","strokeWidth":7,"strokeCap":"round","strokeJoin":"round"},"encoding":{"detail":{"field":"p"},"order":{"value":null}}},
{"data":{"name":"k"},"mark":{"type":"point","shape":"circle","filled":true,"size":60,"color":"#111","opacity":1}},
{"data":{"name":"e"},"mark":{"type":"point","shape":"circle","filled":true,"size":32,"color":"#111","opacity":1}}
]},
{"width":228,"height":281,"encoding":{"x":{"field":"x","type":"quantitative","scale":{"domain":[-109.5,118.5]},"axis":null},"y":{"field":"y","type":"quantitative","scale":{"domain":[-169,112]},"axis":null}},
"layer":[
{"data":{"name":"h4"},"mark":{"type":"rect","width":12.6,"height":12.6},"encoding":{"color":{"field":"v","type":"quantitative","legend":null,"scale":{"domain":[-41.8,-32,-23,-11.5,0,8,16.5,26,35,41,48.8],"range":["#1f1a6e","#2b3a9c","#3e6cc0","#62b4dd","#8dc48f","#b8d84c","#f0e82a","#e8892b","#c8282a","#8c1a1e","#5a0f14"]}}}},
{"data":{"name":"h4"},"mark":{"type":"rect","width":18,"height":18,"opacity":0.45,"xOffset":2,"yOffset":2},"encoding":{"color":{"field":"v","type":"quantitative","legend":null}}},
{"data":{"values":[{"x":0,"y":0}]},"mark":{"type":"point","shape":"circle","size":34596,"stroke":"white","strokeWidth":16,"opacity":1,"fill":null}},
{"data":{"values":[{"x":0,"y":0}]},"mark":{"type":"point","shape":"circle","size":30976,"stroke":"#e6eef7","strokeWidth":5,"opacity":1,"fill":null}},
{"data":{"name":"c4"},"mark":{"type":"line","interpolate":"cardinal","stroke":"#555","strokeWidth":2},"encoding":{"detail":{"field":"c"},"order":{"value":null}}},
{"data":{"values":[{"x":0,"y":0}]},"mark":{"type":"point","shape":"circle","size":26569,"stroke":"#111","strokeWidth":7,"opacity":1,"fill":null}},
{"data":{"name":"o"},"mark":{"type":"line","stroke":"#111","strokeWidth":7,"strokeCap":"round","strokeJoin":"round"},"encoding":{"detail":{"field":"p"},"order":{"value":null}}},
{"data":{"name":"k"},"mark":{"type":"point","shape":"circle","filled":true,"size":60,"color":"#111","opacity":1}},
{"data":{"name":"e"},"mark":{"type":"point","shape":"circle","filled":true,"size":32,"color":"#111","opacity":1}}
]}
]},
{"bounds":"flush","spacing":0,"hconcat":[
{"width":108,"height":216,"data":{"values":[{"a":0}]},"mark":{"type":"point","opacity":0},"encoding":{}},
{"width":193,"height":216,
"encoding":{"x":{"field":"pos","type":"quantitative","scale":{"domain":[0.4034,2.5966],"padding":0},"axis":{"title":null,"values":[1,2],"labelExpr":"datum.value==1?'LH':'RH'","domain":false,"ticks":false,"labelPadding":-6,"labelFontSize":25.5,"labelFontWeight":"bold","labelColor":"#000","labelFont":"Liberation Sans"}},"y":{"field":"ami","type":"quantitative","scale":{"domain":[-0.0348,0.075]},"axis":{"title":"AMI","titleFontSize":30,"titleFontWeight":"bold","titleFont":"Liberation Sans","titleColor":"#000","titleX":-74,"titleY":99,"values":[-0.025,0,0.025,0.05,0.075],"labelExpr":"datum.value==0?'0':datum.value<0?'–0.025':format(datum.value,'.3f')","labelFontSize":23,"labelFontWeight":"bold","labelColor":"#000","labelFont":"Liberation Sans","labelPadding":5,"tickSize":5,"tickWidth":2,"tickColor":"#333","domainColor":"#333","domainWidth":2}}},
"layer":[
{"data":{"values":[{"side":"LH","pos":1,"ami":0.0493},{"side":"RH","pos":2,"ami":-0.004}]},"mark":{"type":"bar","width":43.5},"encoding":{"color":{"field":"side","type":"nominal","legend":null,"scale":{"domain":["LH","RH"],"range":["#b01e25","#34409a"]}}}},
{"data":{"values":[{"pos":0.4034,"end":2.5966,"ami":0}]},"mark":{"type":"rule","color":"#111","strokeWidth":2},"encoding":{"x2":{"field":"end"}}},
{"data":{"values":[{"pos":1,"ami":0.0349,"hi":0.0633},{"pos":2,"ami":-0.0252,"hi":0.0173}]},"mark":{"type":"rule","color":"#111","strokeWidth":2},"encoding":{"y2":{"field":"hi"}}},
{"data":{"values":[{"pos":1.256,"end":2.085,"ami":0.0588}]},"mark":{"type":"rule","color":"#111","strokeWidth":2},"encoding":{"x2":{"field":"end"}}},
{"data":{"values":[{"pos":1.65,"ami":0.0625}]},"mark":{"type":"text","text":"**","fontSize":24,"fontWeight":"bold","font":"Liberation Sans","color":"#000"}}
]},
{"width":17,"height":216,"data":{"values":[{"a":0}]},"mark":{"type":"point","opacity":0},"encoding":{}},
{"width":193,"height":216,
"encoding":{"x":{"field":"pos","type":"quantitative","scale":{"domain":[0.4773,2.6705],"padding":0},"axis":{"title":null,"values":[1,2],"labelExpr":"datum.value==1?'LH':'RH'","domain":false,"ticks":false,"labelPadding":-6,"labelFontSize":25.5,"labelFontWeight":"bold","labelColor":"#000","labelFont":"Liberation Sans"}},"y":{"field":"ami","type":"quantitative","scale":{"domain":[-0.0348,0.075]},"axis":null}},
"layer":[
{"data":{"values":[{"side":"LH","pos":1,"ami":0.0252},{"side":"RH","pos":2,"ami":-0.0054}]},"mark":{"type":"bar","width":43.5},"encoding":{"color":{"field":"side","type":"nominal","legend":null,"scale":{"domain":["LH","RH"],"range":["#b01e25","#34409a"]}}}},
{"data":{"values":[{"pos":0.4773,"end":2.6705,"ami":0}]},"mark":{"type":"rule","color":"#111","strokeWidth":2},"encoding":{"x2":{"field":"end"}}},
{"data":{"values":[{"pos":1,"ami":0.0099,"hi":0.04},{"pos":2,"ami":-0.029,"hi":0.018}]},"mark":{"type":"rule","color":"#111","strokeWidth":2},"encoding":{"y2":{"field":"hi"}}},
{"data":{"values":[{"pos":1.125,"end":1.958,"ami":0.0459}]},"mark":{"type":"rule","color":"#111","strokeWidth":2},"encoding":{"x2":{"field":"end"}}},
{"data":{"values":[{"pos":1.553,"ami":0.0498}]},"mark":{"type":"text","text":"*","fontSize":24,"fontWeight":"bold","font":"Liberation Sans","color":"#000"}}
]},
{"width":44,"height":216,"data":{"values":[{"a":0}]},"mark":{"type":"point","opacity":0},"encoding":{}},
{"width":195,"height":216,
"encoding":{"x":{"field":"pos","type":"quantitative","scale":{"domain":[0.3977,2.6136],"padding":0},"axis":{"title":null,"values":[1,2],"labelExpr":"datum.value==1?'LH':'RH'","domain":false,"ticks":false,"labelPadding":-6,"labelFontSize":25.5,"labelFontWeight":"bold","labelColor":"#000","labelFont":"Liberation Sans"}},"y":{"field":"ami","type":"quantitative","scale":{"domain":[-0.0348,0.075]},"axis":null}},
"layer":[
{"data":{"values":[{"side":"LH","pos":1,"ami":0.0505},{"side":"RH","pos":2,"ami":-0.008}]},"mark":{"type":"bar","width":43.5},"encoding":{"color":{"field":"side","type":"nominal","legend":null,"scale":{"domain":["LH","RH"],"range":["#b01e25","#34409a"]}}}},
{"data":{"values":[{"pos":0.3977,"end":2.6136,"ami":0}]},"mark":{"type":"rule","color":"#111","strokeWidth":2},"encoding":{"x2":{"field":"end"}}},
{"data":{"values":[{"pos":1,"ami":0.0352,"hi":0.0655},{"pos":2,"ami":-0.0241,"hi":0.0082}]},"mark":{"type":"rule","color":"#111","strokeWidth":2},"encoding":{"y2":{"field":"hi"}}},
{"data":{"values":[{"pos":1.224,"end":2.077,"ami":0.0556}]},"mark":{"type":"rule","color":"#111","strokeWidth":2},"encoding":{"x2":{"field":"end"}}},
{"data":{"values":[{"pos":1.628,"ami":0.0578}]},"mark":{"type":"text","text":"**","fontSize":24,"fontWeight":"bold","font":"Liberation Sans","color":"#000"}}
]},
{"width":22,"height":216,"data":{"values":[{"a":0}]},"mark":{"type":"point","opacity":0},"encoding":{}},
{"width":195,"height":216,
"encoding":{"x":{"field":"pos","type":"quantitative","scale":{"domain":[0.3977,2.6136],"padding":0},"axis":{"title":null,"values":[1,2],"labelExpr":"datum.value==1?'LH':'RH'","domain":false,"ticks":false,"labelPadding":-6,"labelFontSize":25.5,"labelFontWeight":"bold","labelColor":"#000","labelFont":"Liberation Sans"}},"y":{"field":"ami","type":"quantitative","scale":{"domain":[-0.0348,0.075]},"axis":null}},
"layer":[
{"data":{"values":[{"side":"LH","pos":1,"ami":0.0145},{"side":"RH","pos":2,"ami":0.0043}]},"mark":{"type":"bar","width":43.5},"encoding":{"color":{"field":"side","type":"nominal","legend":null,"scale":{"domain":["LH","RH"],"range":["#b01e25","#34409a"]}}}},
{"data":{"values":[{"pos":0.3977,"end":2.6136,"ami":0}]},"mark":{"type":"rule","color":"#111","strokeWidth":2},"encoding":{"x2":{"field":"end"}}},
{"data":{"values":[{"pos":1,"ami":-0.0087,"hi":0.0378},{"pos":2,"ami":-0.0204,"hi":0.0293}]},"mark":{"type":"rule","color":"#111","strokeWidth":2},"encoding":{"y2":{"field":"hi"}}},
{"data":{"values":[{"pos":1.6,"ami":0.0502}]},"mark":{"type":"text","text":"n.s.","fontSize":26,"fontWeight":"bold","font":"Liberation Sans","color":"#000"}}
]}
]}
]}
